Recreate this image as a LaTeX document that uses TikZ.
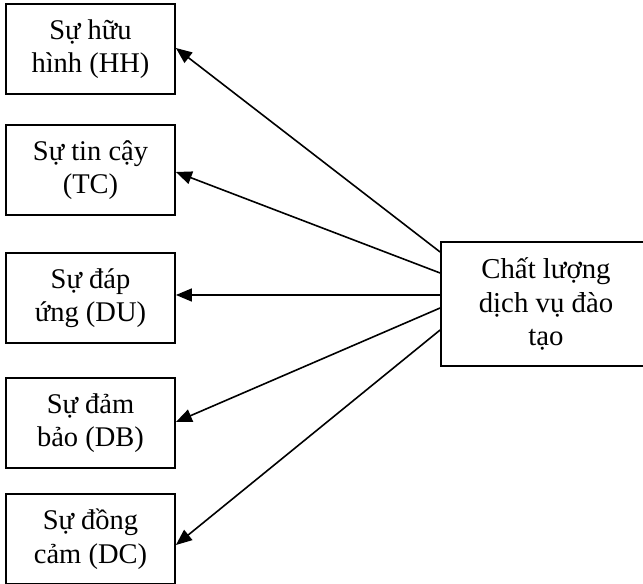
\documentclass[tikz,border=0pt]{standalone}
\usepackage{fontspec}
\setmainfont{Liberation Serif}
\usetikzlibrary{arrows.meta}
\begin{document}
\begin{tikzpicture}[x=1pt,y=1pt,
  factor/.style={draw, line width=1.8pt, minimum width=169pt, minimum height=90pt,
    inner sep=0pt, align=center, font=\fontsize{28.5}{33.5}\selectfont},
  mainbox/.style={draw, line width=1.8pt, minimum width=210pt, minimum height=124pt,
    inner sep=0pt, align=center, font=\fontsize{28.8}{33.5}\selectfont},
  link/.style={line width=1.6pt, -{Triangle[length=16pt,width=13pt]}}]
  \useasboundingbox (0,0) rectangle (643,584);
  % dimension boxes on the left
  \node[factor] (hh) at (90.5,535) {Sự hữu\\hình (HH)};
  \node[factor] (tc) at (90.5,414) {Sự tin cậy\\(TC)};
  \node[factor] (du) at (90.5,286) {Sự đáp\\ứng (DU)};
  \node[factor] (db) at (90.5,161) {Sự đảm\\bảo (DB)};
  \node[factor] (dc) at (90.5,45) {Sự đồng\\cảm (DC)};
  % overall quality box
  \node[mainbox] (cl) at (546,280) {Chất lượng\\dịch vụ đào\\tạo};
  % arrows from the quality box to each dimension
  \draw[link] ([yshift=52pt]cl.west) -- ([yshift=1pt]hh.east);
  \draw[link] ([yshift=31pt]cl.west) -- ([yshift=-2pt]tc.east);
  \draw[link] ([yshift=9pt]cl.west) -- ([yshift=3pt]du.east);
  \draw[link] ([yshift=-4pt]cl.west) -- ([yshift=1pt]db.east);
  \draw[link] ([yshift=-26pt]cl.west) -- ([yshift=-6pt]dc.east);
\end{tikzpicture}
\end{document}
